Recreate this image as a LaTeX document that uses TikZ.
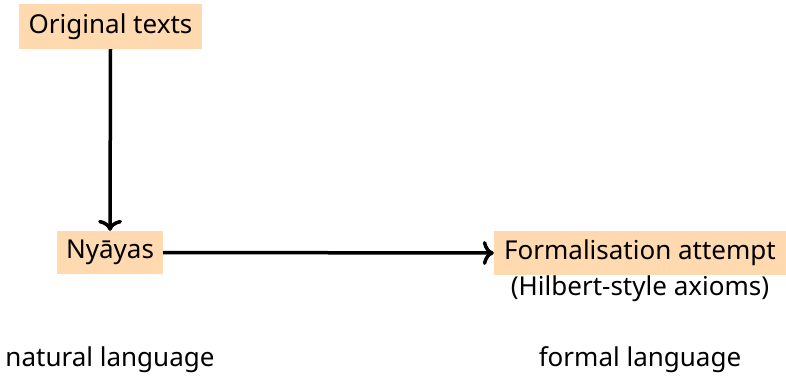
\documentclass[tikz,border=0pt]{standalone}
\usepackage{fontspec}
\setmainfont{Noto Sans}
\usetikzlibrary{arrows.meta}
\definecolor{peach}{RGB}{255,217,176}
\begin{document}
\begin{tikzpicture}[x=1pt,y=-1pt,
  box/.style={fill=peach,inner sep=0pt,font=\fontsize{26}{30}\selectfont,text=black},
  lbl/.style={inner sep=0pt,font=\fontsize{26}{30}\selectfont},
  conn/.style={line width=3.5pt,-{To[length=11pt,width=24pt]}}]
\useasboundingbox (0,0) rectangle (786,379);
\node[box,minimum width=183pt,minimum height=45pt] (orig) at (110.5,26.5) {Original texts};
\node[box,minimum width=106pt,minimum height=43pt] (ny) at (110,252.5) {Nyāyas};
\node[box,minimum width=292pt,minimum height=44pt] (form) at (640,253) {Formalisation attempt};
\node[lbl,anchor=north] (hil) at (640,276) {(Hilbert-style axioms)};
\node[lbl] (nat) at (110,360) {natural language};
\node[lbl] (fl) at (640,360) {formal language};
\draw[conn] (orig.south) -- (ny.north);
\draw[conn] (ny.east) -- (form.west);
\end{tikzpicture}
\end{document}
